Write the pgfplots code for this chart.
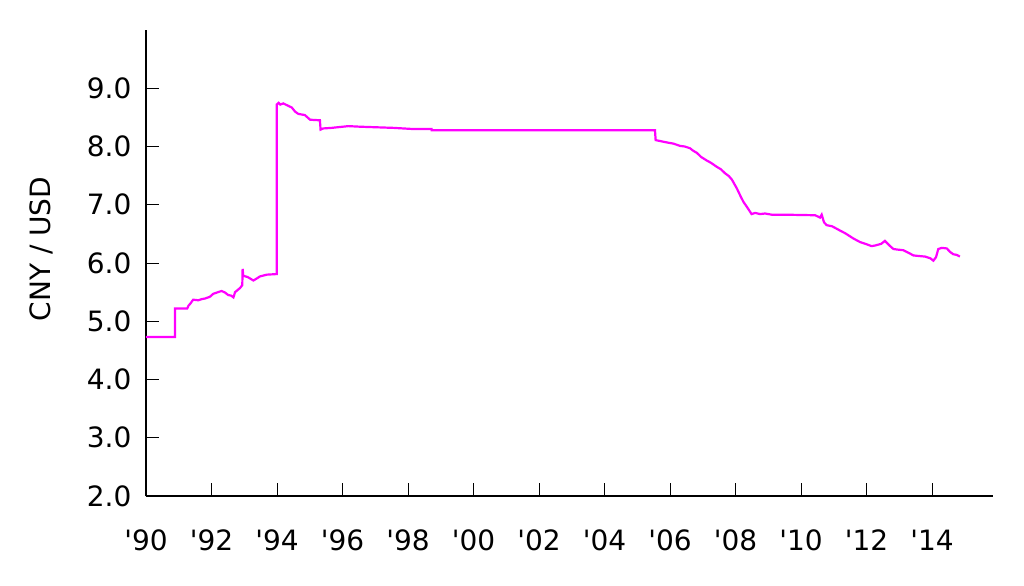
\documentclass[border=0pt]{standalone}
\usepackage{pgfplots}
\pgfplotsset{compat=1.18}
\usepackage{fontspec}
\setmainfont{DejaVu Sans}
\begin{document}
\begin{tikzpicture}
\begin{axis}[
    at={(0,0)}, anchor=south west,
    scale only axis,
    width=423.5pt, height=233pt,
    xmin=1990, xmax=2015.86,
    ymin=2, ymax=10,
    axis x line*=bottom,
    axis y line*=left,
    axis line style={line width=1pt},
    tick style={line width=0.5pt, black},
    major tick length=6.5pt,
    tick align=inside,
    xtick={1990,1992,...,2014},
    xticklabels={\textquotesingle 90,\textquotesingle 92,\textquotesingle 94,\textquotesingle 96,\textquotesingle 98,\textquotesingle 00,\textquotesingle 02,\textquotesingle 04,\textquotesingle 06,\textquotesingle 08,\textquotesingle 10,\textquotesingle 12,\textquotesingle 14},
    ytick={2,3,...,9},
    yticklabel style={/pgf/number format/fixed, /pgf/number format/fixed zerofill, /pgf/number format/precision=1},
    /pgf/number format/assume math mode=true,
    xticklabel style={yshift=-13.5pt},
    yticklabel style={xshift=-3.8pt},
    ticklabel style={font=\fontsize{14}{16}\selectfont},
    ylabel={CNY / USD},
    ylabel style={font=\fontsize{14}{16}\selectfont, at={(axis description cs:-0.124,0.53)}, anchor=center},
]
\addplot[color={rgb,255:red,255;green,0;blue,255}, line width=1.1pt] coordinates {
(1990.00,4.73) (1990.886,4.73) (1990.886,5.22) (1991.26,5.22) (1991.30,5.27)
(1991.35,5.30) (1991.44,5.37) (1991.60,5.36) (1991.70,5.38) (1991.80,5.39)
(1991.95,5.42) (1992.05,5.47) (1992.20,5.50) (1992.31,5.52) (1992.42,5.49)
(1992.51,5.45) (1992.60,5.44) (1992.67,5.41) (1992.72,5.50) (1992.87,5.57)
(1992.94,5.62) (1992.95,5.90) (1992.97,5.78) (1993.10,5.76) (1993.28,5.70)
(1993.40,5.74) (1993.48,5.77) (1993.69,5.80) (1993.99,5.81) (1993.99,8.72)
(1994.05,8.75) (1994.10,8.72) (1994.19,8.74) (1994.30,8.71) (1994.45,8.67)
(1994.55,8.60) (1994.65,8.56) (1994.85,8.54) (1995.01,8.46) (1995.31,8.45)
(1995.33,8.29) (1995.41,8.31) (1995.67,8.32) (1996.18,8.35) (1996.53,8.34)
(1997.55,8.32) (1998.16,8.30) (1998.72,8.30) (1998.72,8.28) (2005.54,8.28)
(2005.56,8.11) (2005.90,8.07) (2006.10,8.05) (2006.31,8.01) (2006.45,8.00)
(2006.61,7.97) (2006.70,7.93) (2006.82,7.89) (2006.95,7.82) (2007.12,7.76)
(2007.25,7.72) (2007.43,7.65) (2007.55,7.61) (2007.68,7.54) (2007.80,7.49)
(2007.89,7.43) (2008.04,7.28) (2008.15,7.15) (2008.24,7.05) (2008.35,6.96)
(2008.49,6.84) (2008.60,6.86) (2008.75,6.84) (2008.90,6.85) (2009.10,6.83)
(2009.46,6.83) (2010.43,6.82) (2010.58,6.78) (2010.63,6.83) (2010.70,6.70)
(2010.78,6.65) (2010.95,6.63) (2011.18,6.56) (2011.35,6.51) (2011.60,6.42)
(2011.80,6.36) (2012.01,6.32) (2012.15,6.29) (2012.26,6.30) (2012.45,6.33)
(2012.56,6.38) (2012.70,6.30) (2012.82,6.24) (2012.95,6.23) (2013.12,6.22)
(2013.30,6.17) (2013.43,6.13) (2013.60,6.12) (2013.79,6.11) (2013.95,6.08)
(2014.04,6.04) (2014.12,6.10) (2014.19,6.24) (2014.30,6.26) (2014.45,6.25)
(2014.55,6.19) (2014.65,6.15) (2014.75,6.14) (2014.85,6.11)
};
\end{axis}
\path[use as bounding box] (-73pt,-44.5pt) rectangle (439pt,248pt);
\end{tikzpicture}
\end{document}
